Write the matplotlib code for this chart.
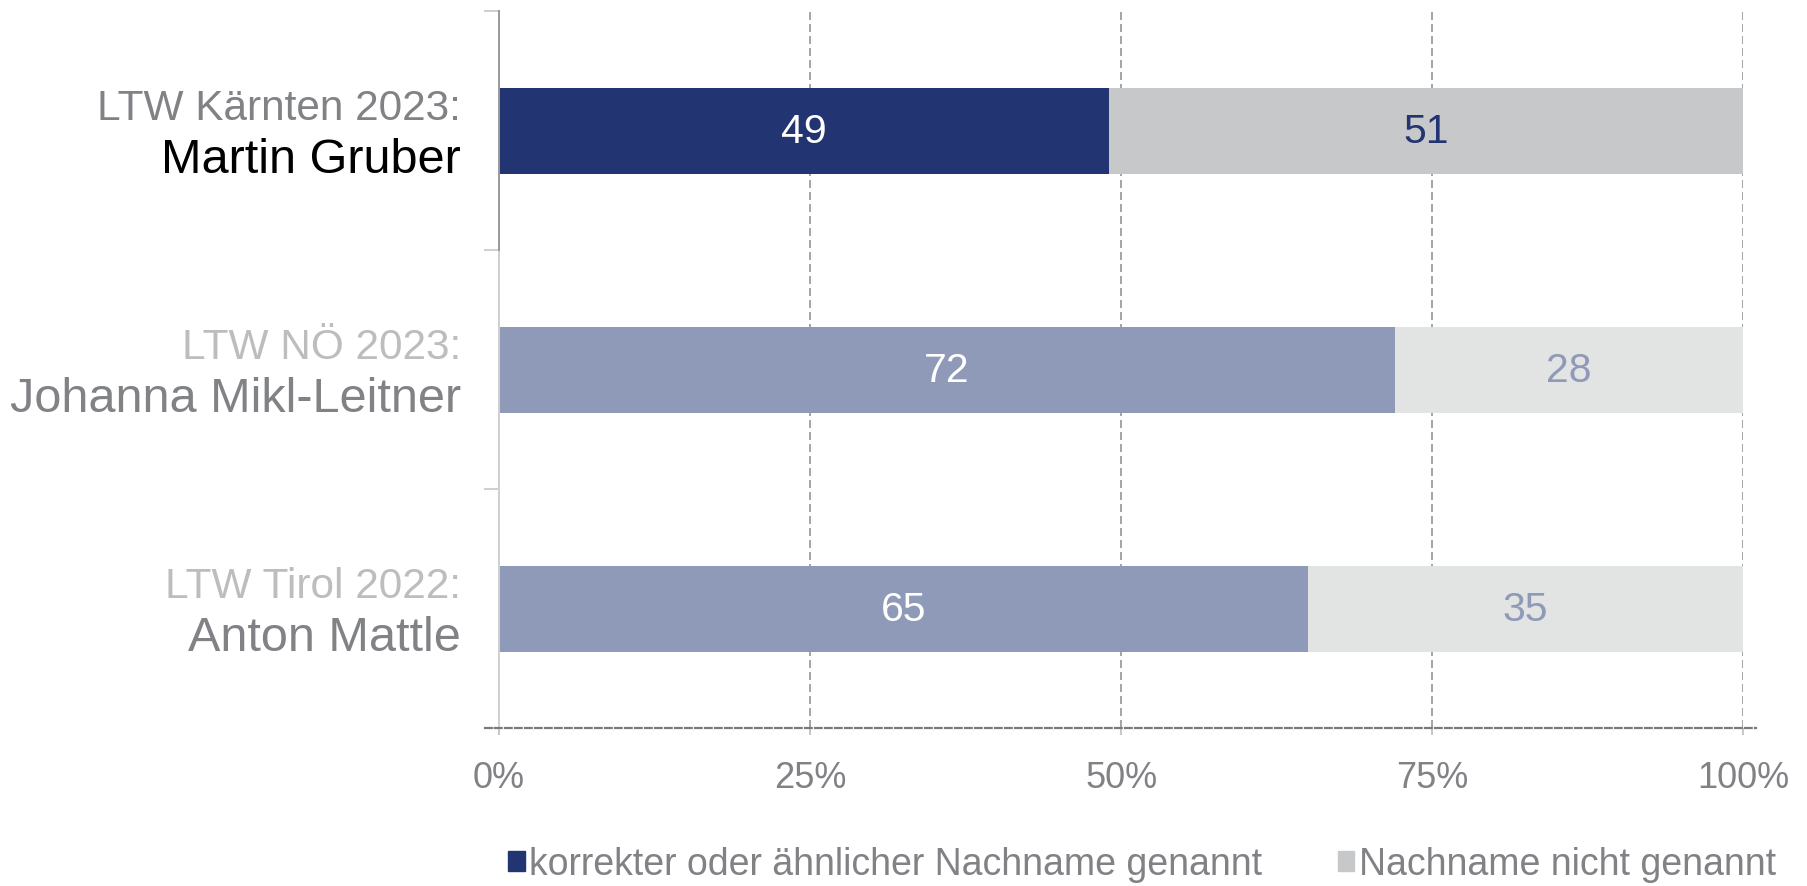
import numpy as np
from matplotlib import pyplot as plt
from matplotlib.patches import Patch
from matplotlib.ticker import FuncFormatter

plt.rcParams['font.family'] = ['Liberation Sans', 'DejaVu Sans']

# data
wahl = ["LTW Kärnten 2023:", "LTW NÖ 2023:", "LTW Tirol 2022:"]
kandidat = ["Martin Gruber", "Johanna Mikl-Leitner", "Anton Mattle"]
genannt = [49, 72, 65]
nicht_genannt = [51, 28, 35]
legende = ["korrekter oder ähnlicher Nachname genannt", "Nachname nicht genannt"]
xticks = [0, 25, 50, 75, 100]

# colours (first row highlighted)
navy = "#233472"
navy_light = "#8f99b8"
grey = "#c7c8ca"
grey_light = "#e2e4e3"
text_grey = "#808285"

fig = plt.figure(figsize=(18.08, 8.87), dpi=100)
ax = fig.add_axes([0.2760, 0.1781, 0.6883, 0.8083])

y = np.arange(len(genannt))
c1 = [navy] + [navy_light] * (len(y) - 1)
c2 = [grey] + [grey_light] * (len(y) - 1)

b1 = ax.barh(y, genannt, height=0.36, color=c1, zorder=2)
b2 = ax.barh(y, nicht_genannt, left=genannt, height=0.36, color=c2, zorder=2)

# value labels
t1 = ax.bar_label(b1, label_type='center', fontsize=29.5, color='white')
t2 = ax.bar_label(b2, label_type='center', fontsize=29.5)
for i, t in enumerate(t2):
    t.set_color(navy if i == 0 else navy_light)

ax.set_xlim(0, 100)
ax.set_ylim(2.5, -0.5)

# left labels
for i in range(len(y)):
    top_col = text_grey if i == 0 else "#bdbdbd"
    name_col = "black" if i == 0 else text_grey
    ax.annotate(wahl[i], xy=(0, i), xycoords=('axes fraction', 'data'),
                xytext=(-38, 23), textcoords='offset pixels',
                ha='right', va='center', fontsize=30.5, color=top_col)
    ax.annotate(kandidat[i], xy=(0, i), xycoords=('axes fraction', 'data'),
                xytext=(-38, -29), textcoords='offset pixels',
                ha='right', va='center', fontsize=35, color=name_col)

# axes styling
for s in ['top', 'right']:
    ax.spines[s].set_visible(False)
ax.spines['left'].set_color('#d0d0d0')
ax.spines['left'].set_linewidth(1.44)
ax.spines['bottom'].set_color('#7a7a7a')
ax.spines['bottom'].set_linewidth(1.6)
ax.spines['bottom'].set_linestyle((0, (3, 1.5)))
ax.spines['bottom'].set_bounds(-1.1, 101)
ax.axvline(0, 2 / 3, 1, color='#9a9a9a', lw=1.44, zorder=3, clip_on=False)

ax.set_yticks([-0.5, 0.5, 1.5, 2.5])
ax.set_yticklabels([])
ax.tick_params(axis='y', length=10.8, width=1.44, color='#d0d0d0')
yt = ax.yaxis.get_major_ticks()
yt[0].tick1line.set_color('#9a9a9a')
yt[-1].tick1line.set_color('#8c8c8c')

ax.set_xticks(xticks)
ax.xaxis.set_major_formatter(FuncFormatter(lambda v, p: f"{v:.0f}%"))
ax.tick_params(axis='x', length=5, width=1.44, color='#c8c8c8',
               labelsize=26, labelcolor=text_grey, pad=18)

ax.set_axisbelow(True)
ax.grid(axis='x', color='#a6a6a6', lw=1.44, linestyle=(0, (4, 2)))
ax.grid(axis='y', visible=False)

handles = [Patch(color=navy), Patch(color=grey)]
fig.legend(handles, legende, loc='center left', ncol=2,
           bbox_to_anchor=(508 / 1808, 1 - 865 / 887), frameon=False,
           fontsize=27, labelcolor=text_grey, handlelength=0.45,
           handleheight=0.45, handletextpad=0.12, columnspacing=2.0,
           borderpad=0, borderaxespad=0)

fig.savefig("out.png", dpi=100)
